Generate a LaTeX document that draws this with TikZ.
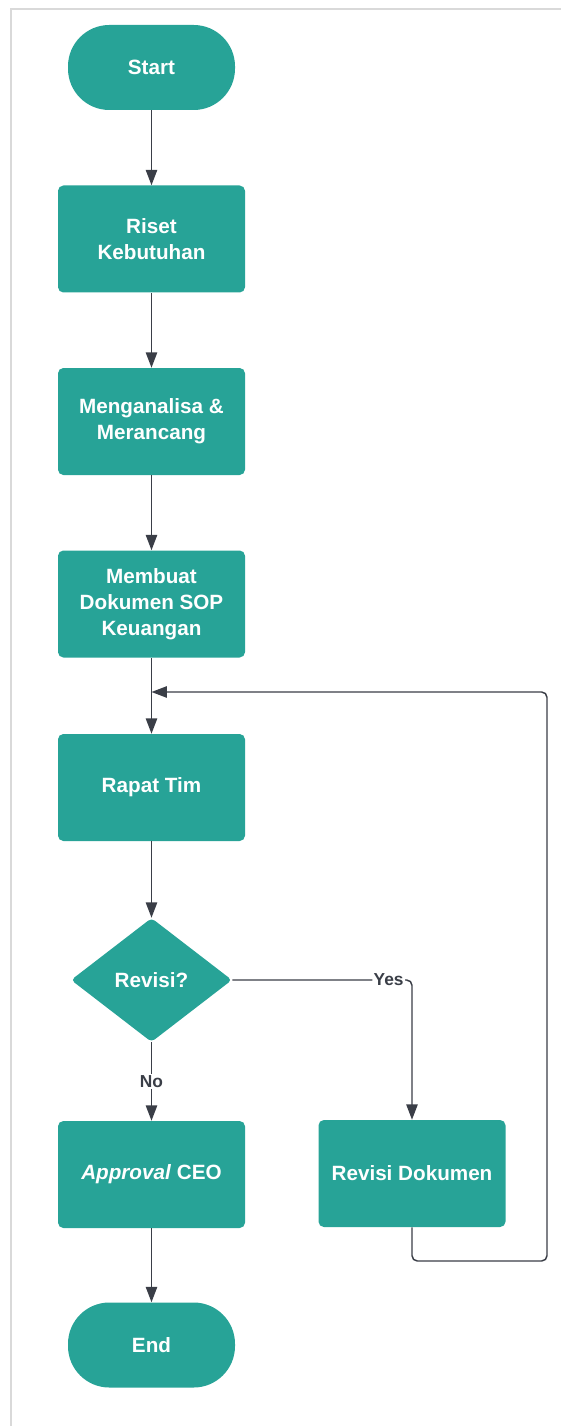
\documentclass[tikz,border=0pt]{standalone}
\usepackage{fontspec}
\setmainfont{Liberation Sans}
\usetikzlibrary{shapes.geometric,arrows.meta}
\definecolor{tealfill}{RGB}{39,163,151}
\definecolor{linegray}{RGB}{58,62,71}
\definecolor{framegray}{RGB}{217,217,217}
\begin{document}
\begin{tikzpicture}[x=0.75pt,y=-0.75pt,
    proc/.style={fill=tealfill,rounded corners=4pt,minimum width=140.25pt,minimum height=80.25pt,
      inner sep=0pt,align=center,text=white,font=\bfseries\fontsize{15.5}{19.4}\selectfont},
    term/.style={proc,rounded corners=31pt,minimum width=125.25pt,minimum height=63.75pt},
    dec/.style={diamond,aspect=1.3,fill=tealfill,rounded corners=3pt,minimum width=120.75pt,
      minimum height=93pt,inner sep=0pt,text=white,font=\bfseries\fontsize{15.5}{19.4}\selectfont},
    flow/.style={draw=linegray,line width=1.1pt,-{Triangle[length=11.5pt,width=8.5pt,fill=linegray]}},
    lbl/.style={fill=white,text=linegray,inner sep=1pt,font=\bfseries\fontsize{13}{15}\selectfont}]

    \useasboundingbox(0,0)rectangle(561,1426);
    \draw[framegray,line width=1.5pt](11,1426)--(11,9)--(561,9);

    \node[term](start)at(151.5,67.5){Start};
    \node[proc](riset)at(151.5,239){Riset\\Kebutuhan};
    \node[proc](analisa)at(151.5,421.5){Menganalisa \&\\Merancang};
    \node[proc](sop)at(151.5,604){Membuat\\Dokumen SOP\\Keuangan};
    \node[proc](rapat)at(151.5,787.5){Rapat Tim};
    \node[dec](revisi)at(151.5,980){Revisi?};
    \node[proc](approval)at(151.5,1174.5){\textit{Approval} CEO};
    \node[proc](revdok)at(412,1173.5){Revisi Dokumen};
    \node[term](end)at(151.5,1345){End};

    \coordinate(yesturn)at(412,980);
    \coordinate(loopbr)at(547,1261);
    \coordinate(looptr)at(547,692);
    \coordinate(loopin)at(151.5,692);

    \foreach\A/\B in{start/riset,riset/analisa,analisa/sop,sop/rapat,rapat/revisi,approval/end}\draw[flow](\A)--(\B);
    \draw[flow](revisi)--node[lbl]{No}(approval);
    \draw[flow,rounded corners=4pt](revisi.east)--node[lbl,pos=0.87]{Yes}(yesturn)--(revdok.north);
    \draw[flow,rounded corners=4pt](revdok.south)--(revdok.south|-loopbr)--(loopbr)--(looptr)--(loopin);
  \end{tikzpicture}
\end{document}
